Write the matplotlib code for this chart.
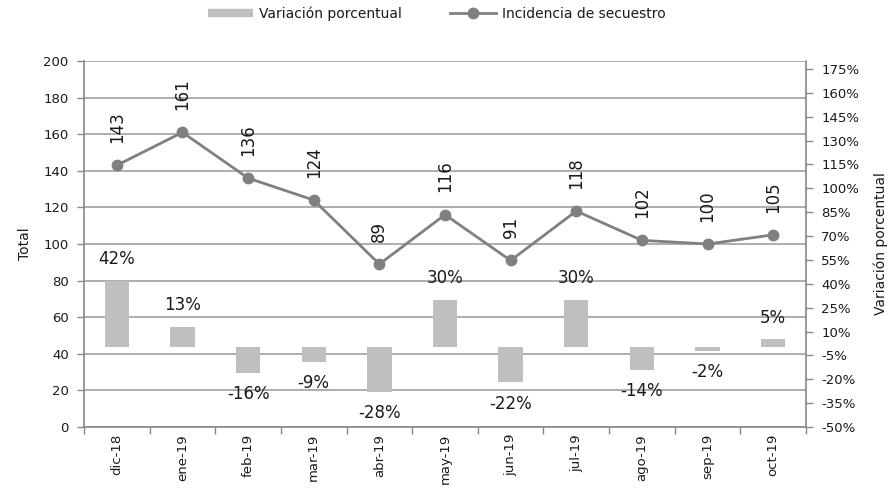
import numpy as np
import matplotlib
matplotlib.use("Agg")
import matplotlib.pyplot as plt
from matplotlib.lines import Line2D
from matplotlib.ticker import FuncFormatter, FixedLocator

categories = ["dic-18", "ene-19", "feb-19", "mar-19", "abr-19", "may-19",
              "jun-19", "jul-19", "ago-19", "sep-19", "oct-19"]
incidencia = [143, 161, 136, 124, 89, 116, 91, 118, 102, 100, 105]
variacion = [42, 13, -16, -9, -28, 30, -22, 30, -14, -2, 5]

plt.rcParams['font.family'] = ['DejaVu Sans']
TXT = '#1a1a1a'
AX = '#888888'
GRID = '#a0a0a0'
BAR = '#bfbfbf'
LINE = '#808080'

fig = plt.figure(figsize=(8.91, 4.95), dpi=100)
ax = fig.add_axes([84/891, 1-427/495, (806-84)/891, (427-61)/495])
ax_bar = ax.twinx()
ax_line = ax.twinx()

x = np.arange(len(categories))

# left axis (Total)
ax.set_xlim(-0.5, len(categories)-0.5)
ax.set_ylim(0, 200)
ax.set_yticks(np.arange(0, 201, 20))
ax.yaxis.grid(True, color=GRID, lw=1.2)
ax.set_axisbelow(True)
ax.tick_params(axis='y', colors=AX, labelcolor=TXT, labelsize=9.5, length=5, width=1, pad=6)
ax.set_ylabel("Total", fontsize=10, color=TXT, labelpad=8)
ax.set_xticks(x)
ax.set_xticklabels(categories, rotation=90, fontsize=9.5, color=TXT)
ax.tick_params(axis='x', which='major', length=0, pad=5)
ax.xaxis.set_minor_locator(FixedLocator(np.arange(-0.5, len(categories), 1.0)))
ax.tick_params(axis='x', which='minor', length=5, width=1, colors=AX)
for s in ['left', 'bottom', 'right', 'top']:
    ax.spines[s].set_color(AX)
    ax.spines[s].set_linewidth(1.2)
ax.spines['top'].set_visible(False)

# bars on right axis
ax_bar.set_ylim(-0.5, 1.8)
ax_bar.set_yticks(np.arange(-0.5, 1.76, 0.15))
ax_bar.yaxis.set_major_formatter(FuncFormatter(lambda v, p: f"{round(v*100):d}%"))
ax_bar.tick_params(axis='y', colors=AX, labelcolor=TXT, labelsize=9.5, length=5, width=1, pad=6)
ax_bar.set_ylabel("Variación porcentual", fontsize=10, color=TXT, rotation=90, labelpad=10)
for s in ax_bar.spines.values():
    s.set_visible(False)
vals = np.array(variacion) / 100.0
ax_bar.bar(x, vals, width=0.37, color=BAR, zorder=2)
for xi, v in zip(x, variacion):
    if v >= 0:
        ax_bar.annotate(f"{v}%", (xi, v/100), xytext=(0, 9), textcoords='offset points',
                        ha='center', va='bottom', fontsize=12, color=TXT)
    else:
        ax_bar.annotate(f"{v}%", (xi, v/100), xytext=(0, -9), textcoords='offset points',
                        ha='center', va='top', fontsize=12, color=TXT)

# line on left scale
ax_line.set_ylim(ax.get_ylim())
ax_line.set_yticks([])
for s in ax_line.spines.values():
    s.set_visible(False)
ax_line.plot(x, incidencia, color=LINE, lw=2.0, marker='o', markersize=7.5,
             markerfacecolor=LINE, markeredgecolor=LINE, zorder=3)
for xi, v in zip(x, incidencia):
    ax_line.annotate(f"{v}", (xi, v), xytext=(0, 16), textcoords='offset points',
                     ha='center', va='bottom', rotation=90, fontsize=12, color=TXT)

# legend
handles = [Line2D([], [], color=BAR, lw=6, solid_capstyle='butt'),
           Line2D([], [], color=LINE, lw=2.0, marker='o', markersize=7.5)]
fig.legend(handles, ["Variación porcentual", "Incidencia de secuestro"],
           loc='center', bbox_to_anchor=(0.49, 0.972), ncol=2, frameon=False,
           fontsize=10, handlelength=3.3, columnspacing=3.5, handletextpad=0.4,
           labelcolor=TXT)

fig.savefig("out.png", dpi=100)
